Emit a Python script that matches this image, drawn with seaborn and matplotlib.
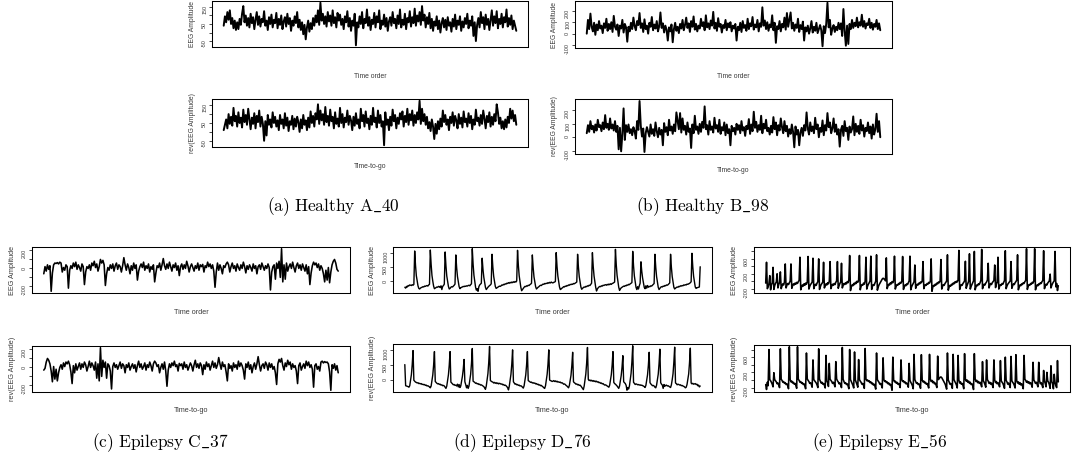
import numpy as np
import matplotlib
matplotlib.use('Agg')
import matplotlib.pyplot as plt
import seaborn as sns

# EEG traces (amplitude per sample, time order)
healthy_a40 = [
    40, 95, 60, 120, 75, 130, 50, 85, 25, 70, 15, 60, 20, 80, 45, 110, 155, 60, 100, 40,
    85, 30, 110, 55, 90, 20, 75, 120, 45, 95, 35, 80, 60, 125, 40, 70, 15, 90, 50, 105,
    30, 75, 55, 115, 25, 80, 45, 100, 20, 65, 90, 35, 110, 50, 85, 10, 70, 40, 95, 55,
    120, 30, 75, 15, 60, -10, 45, -40, 30, 70, 5, 55, 20, 85, 40, 100, 60, 130, 45, 175,
    70, 110, 50, 95, 35, 120, 65, 100, 40, 130, 55, 90, 30, 115, 70, 105, 45, 80, 20, 95,
    60, 125, 35, 85, 10, 70, 40, 110, -75, 60, 30, 95, 50, 120, 25, 80, 55, 135, 40, 90,
    15, 75, 50, 115, 30, 95, 60, 130, 20, 70, 45, 105, 35, 85, 10, 65, 90, 40, 120, 55,
    80, 25, 100, 50, 135, 30, 75, 45, 110, 20, 85, 60, 125, 35, 90, 55, 140, 40, 100, 65,
    120, 45, 155, 70, 105, 30, 90, 50, 115, 25, 80, 10, 65, 40, 95, 20, 70, 0, 55, 85,
    30, 75, 15, 90, 40, 60, 5, 80, 35, 105, 20, 70, 45, 95, 10, 65, 30, 85, 50, 110,
    25, 70, 40, 95, -20, 60, -50, 45, 85, 30, 120, 55, 90, 20, 105, 45, 80, 15, 70, 130,
    40, 95, 55, 125, 25, 80, 50, 110, 30, 90, 60, 135, 35, 85, 45, 100, 20, 70, 40, 10,
]
healthy_b98 = [
    0, 120, 40, 175, 60, 20, 95, -10, 80, 30, 110, 45, 70, 5, 90, 50, 130, 25, 85, 40,
    100, 15, 155, 60, 35, 80, -20, 70, 45, 120, 10, 85, 55, -70, 60, 20, 95, 40, 140, 65,
    30, 110, 75, 180, 50, 90, 15, 125, 40, 70, 0, 95, 60, 145, 30, 80, 45, 110, 20, 65,
    185, 50, 90, 10, 70, 35, -60, 55, 20, 80, -75, 40, 95, 25, 60, 5, 85, 45, 120, 30,
    75, 140, 50, 90, 15, 110, 60, 150, 35, 85, 20, 70, 45, 130, 65, 100, 30, 160, 55, 90,
    40, 115, 70, 190, 45, 95, 25, 135, 60, 85, 10, 75, 50, 120, 30, 90, 55, 100, 20, 70,
    45, 85, -60, 60, 30, 95, 15, 110, 50, 75, 25, 130, 40, 90, 65, 145, 35, 80, 55, 120,
    20, 90, 60, 230, 70, 115, 40, 100, 25, 80, 55, 160, 30, 95, -80, 65, 40, 110, 20, 85,
    55, 140, 35, 180, 60, 120, 185, 45, 95, 25, 80, 50, 130, 15, 75, 40, 105, -60, 55, 20,
    70, 0, 45, 110, 10, 60, 25, 95, 5, 40, 75, 30, -110, 65, 5, 85, 270, 55, 120, -10,
    45, 75, 15, 60, 30, 95, 40, 90, -20, 215, 25, -105, 70, -90, 85, 40, 120, 50, 95, 65,
    140, 55, 100, 70, 165, 60, 110, 45, 90, 75, 130, 50, 95, 35, 85, 60, 120, 40, 90, 30,
]
epilepsy_c37 = [
    -60, 20, -30, 40, -10, 30, -255, -50, 40, 60, 55, 65, 50, 70, 60, -40, 10, -20, 40, 20,
    -220, -20, 30, 0, 60, 20, 70, -10, 40, 10, -30, 50, 20, -180, -40, 20, 0, 40, -20, 60,
    30, 80, 10, 50, -30, 20, 100, 60, 90, 40, -190, -60, 10, -20, 40, 0, 50, -30, 30, 60,
    -10, 40, 20, -40, 30, 120, 40, -20, 50, 10, -60, 30, -20, 60, 0, 40, -130, -30, 20, 50,
    10, 70, -20, 30, 0, 50, -40, 20, -10, 40, -150, -50, 30, 10, 60, -20, 40, 110, 30, -10,
    50, 0, 70, 20, -30, 40, 10, 60, -20, 30, -80, 20, 50, -10, 40, 0, 80, 30, -40, 20,
    50, 10, -30, 30, 0, 60, -20, 40, 20, 45, -40, 30, 10, 70, 20, 50, 0, 40, -30, -210,
    -40, 60, -20, 40, 0, -60, 30, 10, 50, 70, 40, -40, 20, 60, 0, 30, -30, 50, 10, -20,
    40, 0, 70, 20, -50, 30, -10, 40, 10, -30, 50, 0, 30, -60, 20, 40, -10, 60, 20, -20,
    30, 0, 50, 10, -240, -40, 20, 40, -120, 60, 0, 80, -100, 220, -150, 40, -120, 60, -30, 20,
    50, 0, 70, 10, -40, 30, 60, 0, 40, -20, 50, 10, -30, 40, -60, 20, -180, -50, 30, 70,
    40, 60, 10, 50, -20, 30, 0, -60, -150, -20, -130, 10, -160, -40, 40, 80, 100, 60, -10, -30,
]
epilepsy_d76 = [
    -200, -230, -170, -190, -140, -150, -120, -130, -140, -110, -130, -100,
    1057, 560, 200, 20, -150, -240, -260, -230, -210, -200, -180, -190, -160, -170, -150, -140, -160, -120, -100,
    1090, 590, 210, 10, -160, -250, -230, -210, -190, -200, -170, -180, -210, -150, -280, -170, -140, -90,
    1023, 540, 190, 0, -170, -260, -240, -200, -180, -190, -160, -130, -90,
    920, 480, 170, -10, -180, -250, -220, -200, -190, -170, -180, -160, -170, -150, -160, -140, -130, -150, -110, -80,
    1136, 600, 220, 10, -200, -300, -250, -340, -180, -120, -90, -60,
    807, 420, 150, -30, -200, -280, -240, -200, -170, -140, -120, -80,
    943, 500, 180, 0, -170, -240, -220, -200, -180, -160, -170, -150, -120, -130, -100, -110,
    -80, -90, -60, -70, -40, -60, -30, -50, -20, -40, -10, -30, 0, -20, 20,
    1080, 560, 200, 0, -200, -320, -280, -240, -200, -170, -180, -150, -160, -130, -140, -110, -90, -60,
    920, 480, 160, -20, -180, -260, -230, -200, -180, -150, -130, -140, -110, -90, -100, -70,
    -80, -60, -70, -40, -60, -30, -50, -20, -40, -50, -30, -20, 0,
    1000, 520, 190, 0, -190, -280, -260, -230, -210, -180, -190, -160, -170, -140, -150, -120,
    -130, -100, -110, -90, -100, -70, -80, -60, -40, -20,
    943, 500, 170, -10, -190, -270, -240, -210, -190, -200, -170, -180, -150, -160, -130, -140, -100, -60,
    1000, 520, 190, 0, -200, -330, -260, -220, -190, -170, -180, -150, -160, -130, -140, -120,
    -110, -130, -100, -120, -90, -110, -80, -100, -70, -60, -40, -20,
    1114, 580, 210, 0, -200, -310, -260, -220, -200, -180, -160, -170, -140, -150, -120, -130, -100, -110, -80, -60, -40,
    1045, 540, 190, 0, -200, -280, -180, -260, -150, -60,
    682, 350, 120, -40, -200, -250, -150, -230, -140, -200, -170, -180, -150, -160, -130, -100, -70,
    943, 490, 170, -20, -200, -280, -240, -200, -180, -190, -160, -170, -140, -150, -120, -130, -110, -80, -50,
    943, 490, 170, -20, -200, -260, -230, -210, -190, -200, -170, -180, -150, -160, -140, -150,
    -120, -130, -110, -120, -90, -100, -80, -70, -40, -10,
    977, 510, 180, 0, -190, -240, -220, -210, -200, -190,
    511,
]
epilepsy_e56 = [
    -50, 509, -200, -150, -60, 150, -230, -100, -40, 373, -220, -120, -60, -20,
    200, -180, -90, -30, 250, -200, -130, -70, -100, -20,
    464, -180, -110, -60, -90, -40, 0,
    464, -190, -120, -70, -100, -50, -80, -30, -60, -10, 20,
    645, -230, -150, -100, -130, -70, -110, -50, -80, -20,
    664, -210, -140, -90, -60, -20,
    618, -200, -130, -80, -110, -50, -10,
    600, -220, -150, -90, -60, -20,
    509, -180, -120, -70, -100, -40, -70, 0,
    527, -200, -130, -80, -110, -60, -90, -30, 10,
    527, -190, -120, -60, -20,
    482, -180, -110, -60, -90, -40, -70, -10, -40, 30,
    691, -250, -150, -100, -120, -60, -90, -30, -60, 0, -30, 20,
    691, -230, -140, -90, -110, -50, -80, 0,
    645, -210, -130, -80, -40, 10,
    673, -220, -140, -90, -110, -50, 0,
    709, -240, -160, -100, -60, -20, 20, 60, 80, 70, 40, 10,
    627, -200, -130, -80, -100, -40, -70, -10, -40, 20,
    673, -210, -140, -90, -110, -60, -80, -30, -50, 0,
    664, -220, -150, -100, -120, -70, -90, -40, 10,
    673, -230, -150, -100, -60, -10,
    436, -190, -120, -80, -100, -50, -70, -20, -40, 10,
    527, -200, -130, -90, -110, -60, -80, -30, -50, 0,
    600, -270, -160, -110, -130, -80, -100, -50, -70, -20, -40, 10,
    582, -210, -140, -90, -110, -60, -30, 10,
    709, -240, -160, -110, -130, -80, -100, -50, -70, -20, -40, 0, -20, 30,
    827, -220, -140, -90, -110, -60, -30, 10,
    536, -190, -120, -60, 0,
    736, -210, -140, -90, -40, 10,
    800, -230, -150, -100, -120, -70, -90, -40, 20,
    855, -200, -130, -80, -100, -50, -20, 30,
    482, -180, -110, -60, -90, -40, -10, 20,
    436, -170, -80, -20,
    645, -210, -140, -90, -110, -60, -80, -30, 20,
    818, -200, -130, -80, -50, -20, 10,
    527, -190, -120, -70, -90, -40, -10, 30,
    709, -230, -150, -100, -120, -70, -90, -40, -60, -10, 20,
    873, -220, -140, -90, -110, -60, -80, -30, -50, 10,
    873, -230, -150, -100, -120, -70, -90, -40, -60, -10, 20,
    818, -200, -130, -80, -100, -50, -20, 10,
    191, -180, -110, -60, -20, 10,
    800, -150, -60, -250, -120,
]

captions = [r'$\mathrm{(a)\ Healthy\ A\_40}$', r'$\mathrm{(b)\ Healthy\ B\_98}$',
            r'$\mathrm{(c)\ Epilepsy\ C\_37}$', r'$\mathrm{(d)\ Epilepsy\ D\_76}$',
            r'$\mathrm{(e)\ Epilepsy\ E\_56}$']

yticks_a = [-50, 0, 50, 100, 150]
ylabels_a = ['-50', '', '50', '', '150']
yticks_b = [-100, 0, 100, 200]
ylabels_b = ['-100', '0', '100', '200']
yticks_c = [-200, -100, 0, 100, 200]
ylabels_c = ['-200', '', '0', '', '200']
yticks_d = [0, 500, 1000]
ylabels_d = ['0', '500', '1000']
yticks_e = [-200, 0, 200, 400, 600, 800]
ylabels_e = ['-200', '', '200', '', '600', '']

sns.set_style('white')
plt.rcParams['font.family'] = ['Liberation Sans', 'DejaVu Sans']
plt.rcParams['mathtext.fontset'] = 'cm'

W, H = 1072, 468
fig = plt.figure(figsize=(W / 100, H / 100), dpi=100)
txt = '#3a3a3a'


def panel(box, values, xlab, ylab, ticks, ticklabels, gap, fs, lw):
    # box = (left, right, top, bottom) in pixels
    x0, x1, y0, y1 = box
    ax = fig.add_axes([x0 / W, 1 - y1 / H, (x1 - x0) / W, (y1 - y0) / H])
    n = len(values)
    sns.lineplot(x=np.arange(n), y=values, ax=ax, color='black', linewidth=lw)
    lo, hi = min(values), max(values)
    ax.set_xlim(-0.04 * (n - 1), 1.04 * (n - 1))
    ax.set_ylim(lo - 0.04 * (hi - lo), hi + 0.04 * (hi - lo))
    ax.set_xticks([])
    ax.set_yticks(ticks)
    ax.set_yticklabels(ticklabels)
    ax.tick_params(axis='y', left=True, length=2.0, width=0.5, pad=1.5,
                   labelsize=3.9, labelrotation=90, colors='black', labelcolor=txt)
    for s in ax.spines.values():
        s.set_color('black')
        s.set_linewidth(0.75)
    ax.set_xlabel(xlab, fontsize=fs, color=txt)
    ax.xaxis.set_label_coords(0.5, -(gap - 3.5) / (y1 - y0))
    ax.set_ylabel(ylab, fontsize=fs, color=txt)
    ax.yaxis.set_label_coords(-16.5 / (x1 - x0), 0.5)
    return ax


series = [healthy_a40, healthy_b98, epilepsy_c37, epilepsy_d76, epilepsy_e56]
ticks = [(yticks_a, ylabels_a), (yticks_b, ylabels_b), (yticks_c, ylabels_c),
         (yticks_d, ylabels_d), (yticks_e, ylabels_e)]
top_boxes = [(212, 528, 1, 47), (575, 892, 1, 48), (32, 350, 247, 293),
             (393, 712, 247, 293), (754, 1070, 247, 293)]
bot_boxes = [(212, 528, 99, 147), (575, 892, 99, 154), (32, 350, 346, 392),
             (393, 712, 344, 392), (754, 1070, 345, 392)]
top_gaps = [29, 29, 20, 20, 20]
bot_gaps = [20, 16, 19, 19, 19]
font_sizes = [4.9, 4.9, 5.2, 5.2, 5.2]
line_widths = [1.4, 1.4, 1.15, 1.0, 1.15]

for i in range(5):
    vals = series[i]
    tk, tl = ticks[i]
    panel(top_boxes[i], vals, 'Time order', 'EEG Amplitude', tk, tl,
          top_gaps[i], font_sizes[i], line_widths[i])
    panel(bot_boxes[i], vals[::-1], 'Time-to-go', 'rev(EEG Amplitude)', tk, tl,
          bot_gaps[i], font_sizes[i], line_widths[i])

cap_x = [333, 703, 160, 522, 880]
cap_y = [207, 207, 443, 443, 443]
for i in range(5):
    fig.text(cap_x[i] / W, 1 - cap_y[i] / H, captions[i], fontsize=12.5,
             ha='center', va='center', color='black')

fig.savefig('out.png', dpi=100)
